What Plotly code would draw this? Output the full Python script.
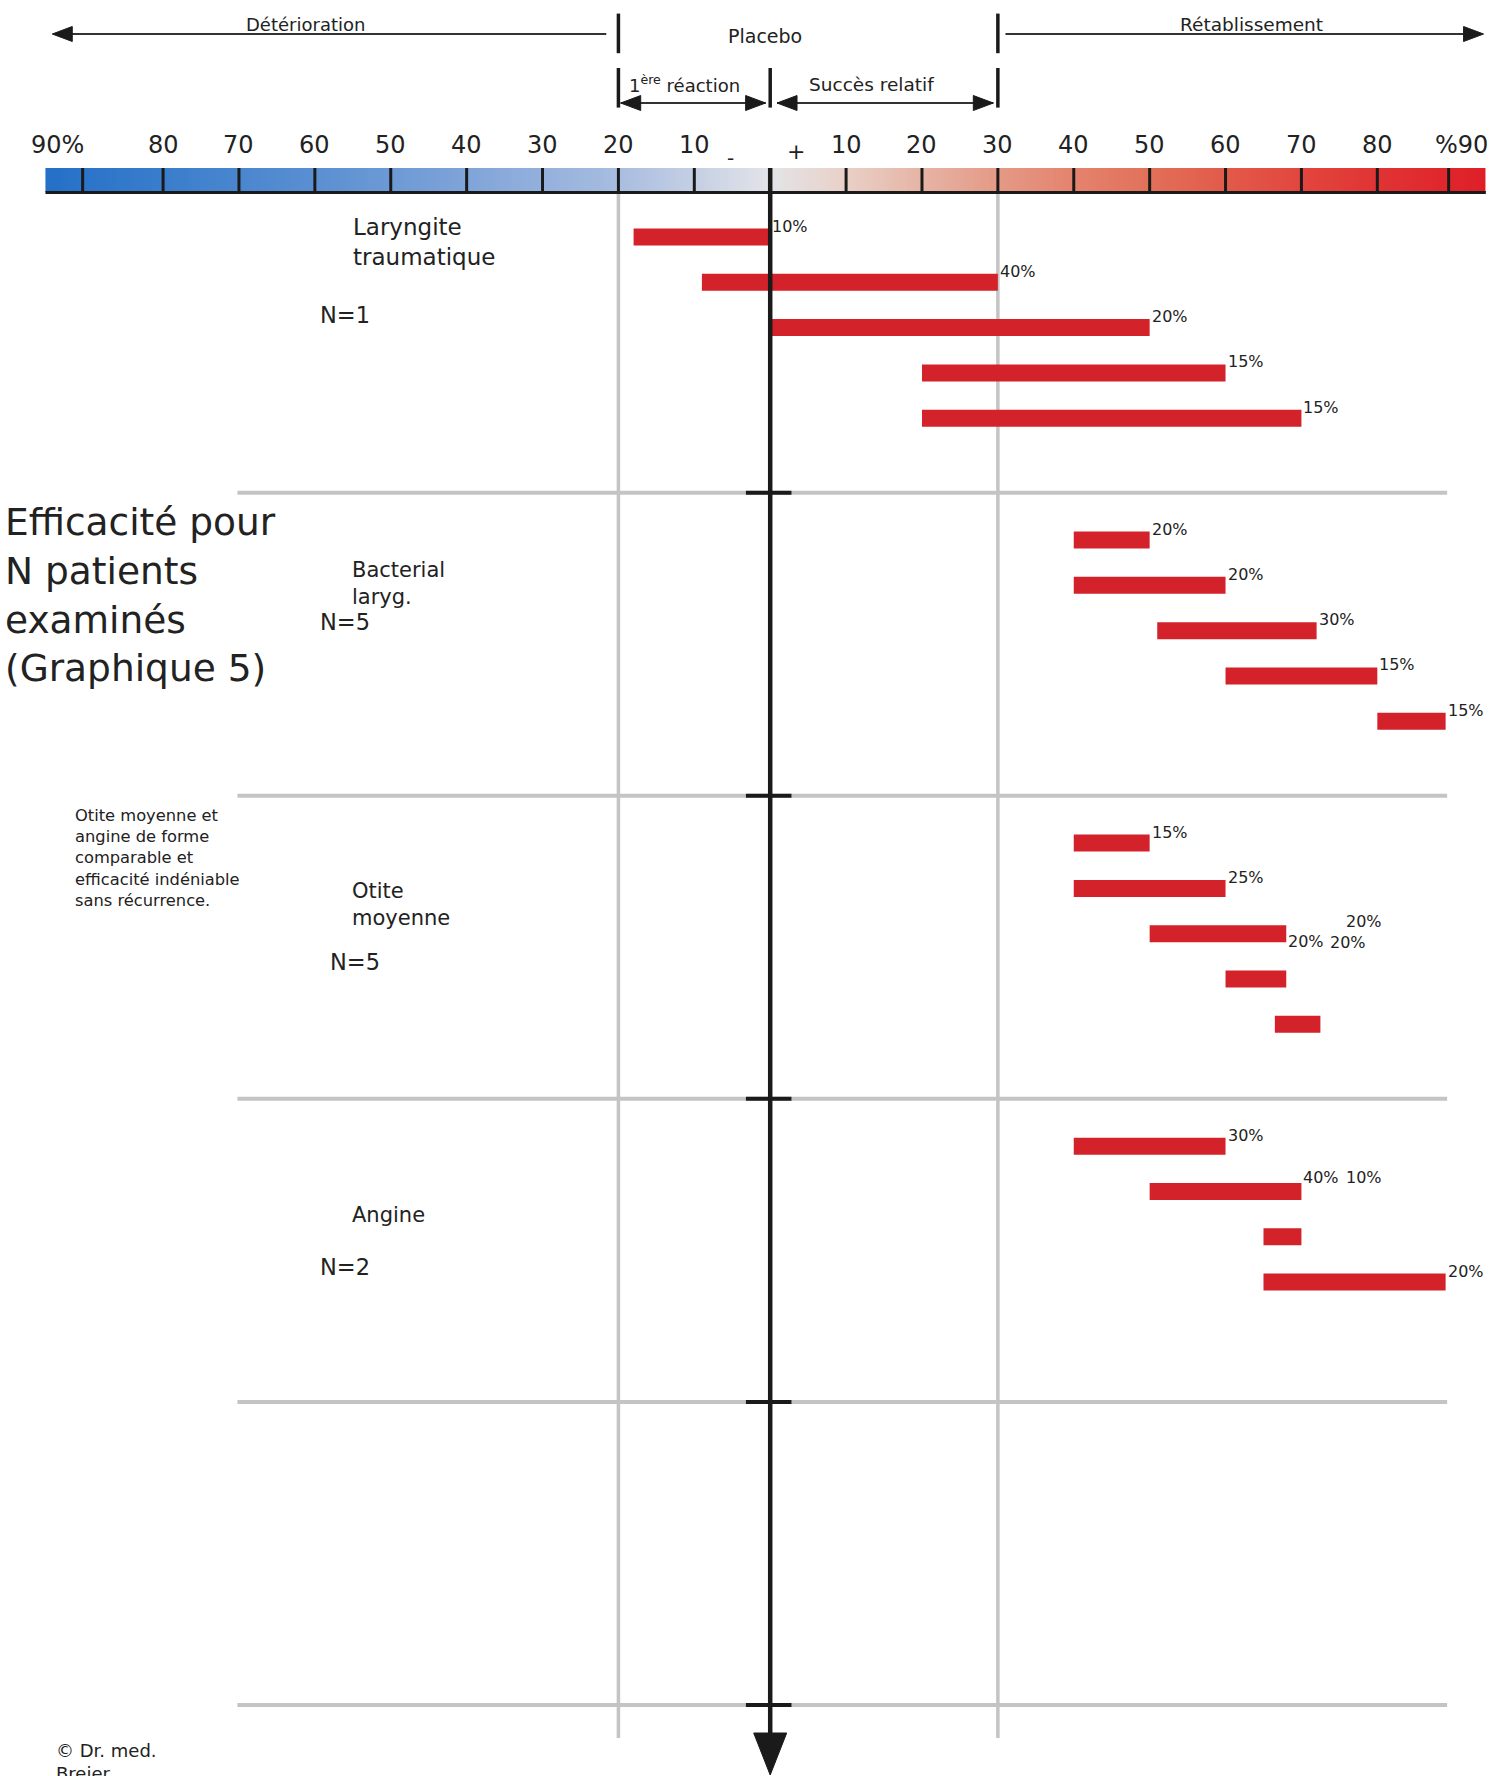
import numpy as np
import plotly.graph_objects as go

# ---------------- data ----------------
GROUP_NAMES = ["Laryngite<br>traumatique", "Bacterial<br>laryg.", "Otite<br>moyenne", "Angine"]
GROUP_N = ["N=1", "N=5", "N=5", "N=2"]

BAR_START = [
    [-18, -9, 0, 20, 20],
    [40, 40, 51, 60, 80],
    [40, 40, 50, 60, 66.5],
    [40, 50, 65, 65],
]
BAR_END = [
    [0, 30, 50, 60, 70],
    [50, 60, 72, 80, 89],
    [50, 60, 68, 68, 72.5],
    [60, 70, 70, 89],
]
BAR_LABELS = [
    ["10%", "40%", "20%", "15%", "15%"],
    ["20%", "20%", "30%", "15%", "15%"],
    ["15%", "25%", "20%", "20%", "20%"],
    ["30%", "40%", "10%", "20%"],
]

SCALE_TICKS = [-90, -80, -70, -60, -50, -40, -30, -20, -10, 0, 10, 20, 30, 40, 50, 60, 70, 80, 90]
SCALE_TICK_TEXT = ["90%", "80", "70", "60", "50", "40", "30", "20", "10", "",
                   "10", "20", "30", "40", "50", "60", "70", "80", "%90"]

ZONE_BOUNDS = [-20, 0, 30]          # 1ère réaction | succès relatif boundaries
SCALE_MIN, SCALE_MAX = -95.5, 94.3  # extent of the colour scale
GRAD_VALUES = [-95.5, -80, -60, -40, -20, -10, 0, 10, 20, 30, 40, 50, 60, 70, 80, 94.3]
GRAD_COLORS = ["#2470c8", "#3a7dcc", "#5a8fd2", "#7fa4d8", "#a8bde0", "#c5cfe3", "#e3e4e9",
               "#e9d0c7", "#e6b4a5", "#e49a86", "#e4836e", "#e27059", "#e25a4a", "#e2463e",
               "#e03434", "#df1f28"]

TITLE = "Efficacité pour<br>N patients<br>examinés<br>(Graphique 5)"
NOTE = ("Otite moyenne et<br>angine de forme<br>comparable et<br>"
        "efficacité indéniable<br>sans récurrence.")
COPYRIGHT = "© Dr. med.<br>Breier"

# ---------------- layout constants ----------------
W, H = 1495, 1776
X0_PX = 770.2          # pixel position of value 0
PX_PER_UNIT = 7.589
ROW0_PX = 237.0        # pixel of first bar row
ROW_PX = 45.3          # pixels per row
GROUP_STEP = 6.69      # rows between groups
BAR_THICK = 17 / ROW_PX
SEP_OFFSET = 5.645     # separator position (rows) after group start
END_TICK_NUDGE = -0.6  # the drawn end ticks of the scale sit slightly left

FONT = "DejaVu Sans"
TXT = "#222222"
BLACK = "#1a1a1a"
GRAY = "#c4c4c4"
RED = "#d3222a"


def py(px):
    """pixel -> row units"""
    return (px - ROW0_PX) / ROW_PX


xr = [-X0_PX / PX_PER_UNIT, (W - X0_PX) / PX_PER_UNIT]
yr = [py(H), py(0)]

fig = go.Figure()

# ---- colour scale (gradient) ----
edges = np.linspace(SCALE_MIN, SCALE_MAX, 381)
centers = (edges[:-1] + edges[1:]) / 2
cs = [[(v - SCALE_MIN) / (SCALE_MAX - SCALE_MIN), c] for v, c in zip(GRAD_VALUES, GRAD_COLORS)]
fig.add_trace(go.Heatmap(
    x=edges, y=[py(168), py(192)], z=[centers], zmin=SCALE_MIN, zmax=SCALE_MAX,
    colorscale=cs, showscale=False, hoverinfo="skip"))

# ---- bars ----
ys, bases, lens = [], [], []
for g, (st, en) in enumerate(zip(BAR_START, BAR_END)):
    for r, (a, b) in enumerate(zip(st, en)):
        ys.append(g * GROUP_STEP + r)
        bases.append(a)
        lens.append(b - a)
fig.add_trace(go.Bar(
    orientation="h", y=ys, base=bases, x=lens, width=BAR_THICK,
    marker=dict(color=RED, line=dict(width=0)), hoverinfo="skip"))

shapes = []
ann = []


def line(x0, x1, y0, y1, color, width, layer="above"):
    shapes.append(dict(type="line", xref="x", yref="y", x0=x0, x1=x1, y0=y0, y1=y1,
                       line=dict(color=color, width=width), layer=layer))


def head(tip_x, ypx, d, L=20, h=7.5):
    Lu = L / PX_PER_UNIT
    y = py(ypx)
    hh = h / ROW_PX
    bx = tip_x - d * Lu
    shapes.append(dict(type="path", xref="x", yref="y",
                       path=f"M {tip_x},{y} L {bx},{y - hh} L {bx},{y + hh} Z",
                       fillcolor=BLACK, line=dict(color=BLACK, width=1)))


def text(x, ypx, s, size, xanchor="left", xshift=0, align="left"):
    ann.append(dict(x=x, y=py(ypx), xref="x", yref="y", text=s, showarrow=False,
                    xanchor=xanchor, yanchor="middle", xshift=xshift, align=align,
                    font=dict(family=FONT, size=size, color=TXT)))


# ---- grid: vertical gray lines at zone bounds ----
for v in (ZONE_BOUNDS[0], ZONE_BOUNDS[2]):
    line(v, v, py(194), py(1738), GRAY, 3.5, layer="below")

# ---- separators ----
n_sep = len(BAR_START) + 1
for k in range(n_sep):
    yy = SEP_OFFSET + k * GROUP_STEP
    line(-70.2, 89.2, yy, yy, GRAY, 4, layer="below")
    line(-3.2, 2.8, yy, yy, BLACK, 4)

# ---- central axis with arrow ----
line(0, 0, py(168), py(1737), BLACK, 4.5)
hw = 16.5 / PX_PER_UNIT
shapes.append(dict(type="path", xref="x", yref="y",
                   path=f"M {-hw},{py(1733)} L {hw},{py(1733)} L 0,{py(1775)} Z",
                   fillcolor=BLACK, line=dict(color=BLACK, width=1)))

# ---- colour-scale ticks and border ----
for v in SCALE_TICKS:
    if v == 0:
        continue
    xv = v + (END_TICK_NUDGE if abs(v) == 90 else 0)
    line(xv, xv, py(168), py(193), BLACK, 3)
line(SCALE_MIN, SCALE_MAX, py(192.5), py(192.5), BLACK, 3)

# ---- tick labels ----
for v, t in zip(SCALE_TICKS, SCALE_TICK_TEXT):
    if not t:
        continue
    xs = 0
    if v == SCALE_TICKS[0]:
        xs = -30
    elif v == SCALE_TICKS[-1]:
        xs = 8
    text(v, 145, t, 24, xanchor="center", xshift=xs)
text(-5.2, 158, "-", 20, xanchor="center")
text(3.4, 151, "+", 22, xanchor="center")

# ---- header zones ----
for v in (ZONE_BOUNDS[0], ZONE_BOUNDS[2]):
    line(v, v, py(13.6), py(53.2), BLACK, 3.5)
for v in ZONE_BOUNDS:
    line(v, v, py(68), py(107.6), BLACK, 3.5)
# top arrows
line(-21.6, -93, py(34), py(34), "#333333", 2)
head(-94.6, 34, -1)
line(31, 92.5, py(34), py(34), "#333333", 2)
head(94.0, 34, 1)
# second-row double arrows
line(-19.7, -0.6, py(103), py(103), "#333333", 2)
head(-19.7, 103, -1)
head(-0.6, 103, 1)
line(0.9, 29.4, py(103), py(103), "#333333", 2)
head(0.9, 103, -1)
head(29.4, 103, 1)

text(-61.2, 24, "Détérioration", 18, xanchor="center")
text(63.4, 24, "Rétablissement", 18.5, xanchor="center")
text(-0.75, 36, "Placebo", 19, xanchor="center")
text(-11.3, 84, "1<sup>ère</sup> réaction", 18, xanchor="center")
text(13.4, 84, "Succès relatif", 18.5, xanchor="center")

# ---- bar value labels ----
LABEL_SHIFT = {(2, 2): (0, -8), (2, 3): (42, 37), (2, 4): (24, 103),
               (3, 1): (0, 14), (3, 2): (43, 59)}
for g, (en, lb) in enumerate(zip(BAR_END, BAR_LABELS)):
    for r, (b, t) in enumerate(zip(en, lb)):
        dx, dy = LABEL_SHIFT.get((g, r), (0, 11))
        ann.append(dict(x=b, y=g * GROUP_STEP + r, xref="x", yref="y", text=t,
                        showarrow=False, xanchor="left", yanchor="middle",
                        xshift=dx, yshift=dy,
                        font=dict(family=FONT, size=16, color=TXT)))

# ---- group names and N ----
NAME_POS = [(-54.9, 242, 23), (-55.1, 583, 21), (-55.1, 904, 21), (-55.1, 1215, 21)]
N_POS = [(-59.3, 315), (-59.3, 622), (-57.9, 962), (-59.3, 1267)]
for name, (x, y, s) in zip(GROUP_NAMES, NAME_POS):
    text(x, y, name, s, xshift=-2.5)
for n, (x, y) in zip(GROUP_N, N_POS):
    text(x, y, n, 22.5, xshift=-2.5)

# ---- side texts ----
text(-100.6, 595, TITLE, 37.5, xshift=-3.5)
text(-91.5, 858, NOTE, 16.3, xshift=-2.5)
text(-94.0, 1762, COPYRIGHT, 18, xshift=-3)

fig.update_layout(
    width=W, height=H, margin=dict(l=0, r=0, t=0, b=0, pad=0),
    paper_bgcolor="white", plot_bgcolor="white", showlegend=False,
    xaxis=dict(range=xr, visible=False, fixedrange=True),
    yaxis=dict(range=yr, visible=False, fixedrange=True),
    shapes=shapes, annotations=ann,
)

fig.write_html("out.html", config={"displayModeBar": False},
               post_script="document.body.style.margin='0';"
                           "document.body.style.overflow='hidden';")
